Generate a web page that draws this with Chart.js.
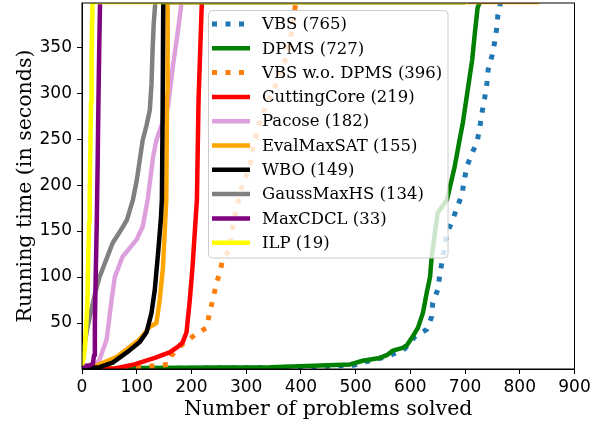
<!DOCTYPE html>
<html>
<head>
<meta charset="utf-8">
<script src="https://cdn.jsdelivr.net/npm/chart.js@4.4.1/dist/chart.umd.min.js"></script>
<style>
html, body { margin: 0; padding: 0; background: #fff; }
#wrap { width: 593px; height: 425px; position: relative; }
</style>
</head>
<body>
<div id="wrap"><canvas id="myChart"></canvas></div>
<script>
"use strict";

// Tick values
const xTicks = [0, 100, 200, 300, 400, 500, 600, 700, 800, 900];
const yTicks = [50, 100, 150, 200, 250, 300, 350];

// Legend labels (same order as the series below)
const labels = ['VBS (765)', 'DPMS (727)', 'VBS w.o. DPMS (396)', 'CuttingCore (219)', 'Pacose (182)',
    'EvalMaxSAT (155)', 'WBO (149)', 'GaussMaxHS (134)', 'MaxCDCL (33)', 'ILP (19)'];

// Series: number of problems solved (x) and running time (y)
const vbsX = [0, 100, 350, 495, 520, 560, 590, 608, 630, 639, 641, 650, 654, 658, 667, 676, 685, 694, 703, 713, 722, 727, 731, 736, 740, 742, 749, 754, 758, 760, 765];
const vbsY = [0.3, 0.5, 1.5, 4, 8, 14, 22, 35, 43, 57, 72, 86, 103, 117, 148, 160, 175, 189, 220, 235, 247, 263, 279, 295, 311, 325, 340, 355, 371, 385, 399];

const dpmsX = [0, 100, 343, 490, 513, 544, 557, 568, 586, 594, 604, 614, 623, 630, 636, 639, 645, 650, 667, 681, 690, 696, 705, 713, 718, 723, 727];
const dpmsY = [0.5, 1, 2, 5, 9, 12, 15, 20, 23, 26, 35, 45, 61, 83, 100, 122, 148, 170, 184, 220, 249, 268, 304, 336, 366, 393, 399];

const vbsWoX = [0, 60, 109, 157, 164, 182, 206, 228, 233, 239, 246, 252, 257, 270, 275, 283, 292, 307, 312, 325, 338, 356, 370, 380, 385, 391, 396];
const vbsWoY = [0.3, 0.5, 2, 5, 15, 26, 37, 45, 61, 75, 94, 105, 119, 130, 154, 176, 198, 220, 241, 268, 289, 311, 333, 354, 376, 399, 399];

const ccX = [0, 30, 60, 96, 133, 160, 175, 184, 191, 197, 202, 206, 210, 213, 219];
const ccY = [0.3, 0.4, 0.5, 5, 12, 18, 24, 29, 40, 75, 111, 148, 184, 293, 399];

const pacoseX = [0, 15, 20, 32, 45, 54, 60, 74, 100, 111, 120, 130, 136, 157, 166, 175, 182];
const pacoseY = [1, 1.5, 2, 10, 32, 75, 100, 122, 141, 155, 184, 231, 249, 285, 329, 366, 399];

const evalX = [0, 20, 32, 63, 105, 124, 136, 142, 148, 154, 155.5, 156.5, 836];
const evalY = [1, 2, 5, 13, 32, 46, 50, 75, 111, 184, 300, 399, 399];

const wboX = [0, 32, 56, 82, 105, 118, 127, 133, 139, 144, 146, 147.5, 148.5, 700];
const wboY = [1.5, 2, 7, 18, 29, 40, 61, 86, 126, 162, 184, 293, 399, 399];

const gaussX = [0, 3, 5, 10, 17, 25, 32, 45, 56, 70, 82, 93, 100, 111, 118, 124, 127, 129, 131, 134];
const gaussY = [12, 20, 28, 45, 64, 85, 100, 120, 137, 150, 162, 184, 205, 249, 265, 282, 310, 347, 375, 399];

const mcdclX = [0, 15, 20, 22, 23.5, 25, 27, 28.5, 30, 31.5, 33];
const mcdclY = [3, 4, 6, 15, 50, 100, 160, 220, 290, 350, 399];

const ilpX = [0, 3, 5, 8, 10, 11, 13, 14, 15, 16.5, 17.5, 18.5, 19, 705];
const ilpY = [4, 12, 21, 50, 75, 110, 160, 187, 230, 290, 340, 380, 399, 399];

const colors = ['#1f77b4', '#008000', '#ff7f0e', '#ff0000', '#dda0dd', '#ffa500', '#000000', '#808080', '#800080', '#ffff00'];
const dotted = [true, false, true, false, false, false, false, false, false, false];

const allX = [vbsX, dpmsX, vbsWoX, ccX, pacoseX, evalX, wboX, gaussX, mcdclX, ilpX];
const allY = [vbsY, dpmsY, vbsWoY, ccY, pacoseY, evalY, wboY, gaussY, mcdclY, ilpY];

// Bygger dataset av arrayerna
const datasets = labels.map((label, i) => ({
    label: label,
    data: allX[i].map((x, j) => ({x: x, y: allY[i][j]})),
    borderColor: colors[i],
    borderWidth: dotted[i] ? 5 : 4.5,
    borderDash: dotted[i] ? [5, 8.5] : [],
    borderCapStyle: 'butt',
    borderJoinStyle: 'round',
    pointRadius: 0,
    tension: 0,
    fill: false,
    clip: 0,
    order: labels.length - i
}));

// Ram runt diagrammet och legend inne i plotytan
const frameAndLegend = {
    id: 'frameAndLegend',
    afterDraw(chart) {
        const ctx = chart.ctx;
        const a = chart.chartArea;
        ctx.save();
        ctx.strokeStyle = '#000';
        ctx.lineWidth = 1;
        ctx.setLineDash([]);
        ctx.strokeRect(a.left, a.top, a.right - a.left, a.bottom - a.top);

        // legend box
        const bx = 208.5, by = 10.5, bw = 239.5, bh = 247.5;
        ctx.beginPath();
        ctx.roundRect(bx, by, bw, bh, 4);
        ctx.fillStyle = 'rgba(255,255,255,0.8)';
        ctx.fill();
        ctx.strokeStyle = '#cccccc';
        ctx.stroke();

        ctx.font = '16.5px "DejaVu Serif"';
        ctx.textBaseline = 'middle';
        ctx.fillStyle = '#000';
        labels.forEach((label, i) => {
            const y = 24 + i * 24.3;
            ctx.beginPath();
            ctx.strokeStyle = colors[i];
            ctx.lineWidth = dotted[i] ? 5 : 4.5;
            ctx.lineCap = 'butt';
            ctx.setLineDash(dotted[i] ? [5, 8.5] : []);
            ctx.moveTo(212, y);
            ctx.lineTo(250, y);
            ctx.stroke();
            ctx.setLineDash([]);
            ctx.fillText(label, 262, y + 1);
        });
        ctx.restore();
    }
};

Chart.defaults.color = '#000';

new Chart(document.getElementById('myChart'), {
    type: 'line',
    data: {datasets: datasets},
    options: {
        responsive: true,
        maintainAspectRatio: false,
        animation: false,
        layout: {padding: {top: 3, right: 18.5, left: 0, bottom: 0}},
        plugins: {legend: {display: false}, tooltip: {enabled: false}},
        scales: {
            x: {
                type: 'linear',
                min: 0,
                max: 900,
                afterBuildTicks: scale => { scale.ticks = xTicks.map(v => ({value: v})); },
                afterFit: scale => { scale.height = 56; scale.paddingLeft = 0; scale.paddingRight = 0; },
                grid: {drawOnChartArea: false, drawTicks: true, tickLength: 5, color: '#000'},
                border: {display: true, color: '#000'},
                ticks: {font: {family: 'DejaVu Sans', size: 17}, padding: 3, maxRotation: 0, color: '#000'},
                title: {display: true, text: 'Number of problems solved', font: {family: 'DejaVu Serif', size: 20.5}, padding: {top: 0, bottom: 3}, color: '#000'}
            },
            y: {
                type: 'linear',
                min: 0,
                max: 398,
                afterBuildTicks: scale => { scale.ticks = yTicks.map(v => ({value: v})); },
                afterFit: scale => { scale.width = 82; scale.paddingTop = 0; scale.paddingBottom = 0; },
                grid: {drawOnChartArea: false, drawTicks: true, tickLength: 5, color: '#000'},
                border: {display: true, color: '#000'},
                ticks: {font: {family: 'DejaVu Sans', size: 17}, padding: 5, color: '#000'},
                title: {display: true, text: 'Running time (in seconds)', font: {family: 'DejaVu Serif', size: 20.5}, padding: {top: 13, bottom: 0}, color: '#000'}
            }
        }
    },
    plugins: [frameAndLegend]
});
</script>
</body>
</html>
